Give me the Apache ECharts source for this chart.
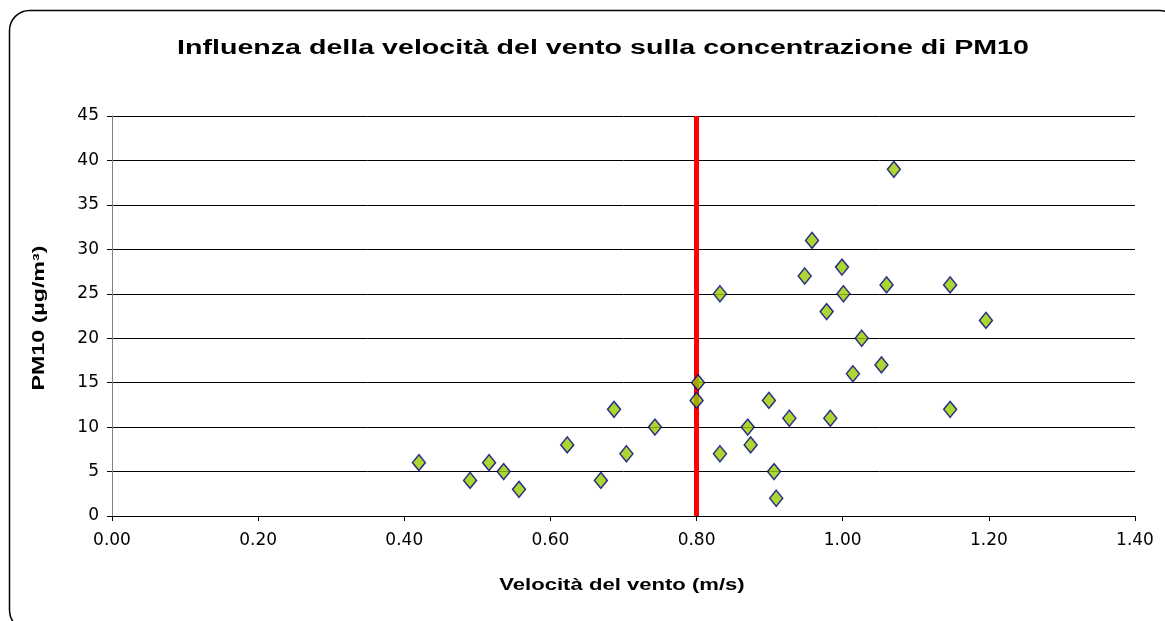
<!DOCTYPE html>
<html>
<head>
<meta charset="utf-8">
<script src="https://cdn.jsdelivr.net/npm/echarts@6/dist/echarts.min.js"></script>
<style>
  html, body { margin: 0; padding: 0; background: #fff; }
  #main { width: 1165px; height: 621px; }
</style>
</head>
<body>
<div id="main"></div>
<script>
// velocità del vento (m/s)
var windSpeed = [0.42, 0.49, 0.516, 0.536, 0.557, 0.623, 0.669, 0.687, 0.704, 0.743,
                 0.80, 0.802, 0.832, 0.832, 0.870, 0.874, 0.899, 0.906, 0.909, 0.927,
                 0.948, 0.958, 0.978, 0.983, 0.999, 1.001, 1.014, 1.026, 1.053, 1.06,
                 1.07, 1.147, 1.147, 1.196];
// PM10 (µg/m³)
var pm10 = [6, 4, 6, 5, 3, 8, 4, 12, 7, 10,
            13, 15, 25, 7, 10, 8, 13, 5, 2, 11,
            27, 31, 23, 11, 28, 25, 16, 20, 17, 26,
            39, 26, 12, 22];
var soglia = 0.8;
var xTicks = [0, 1.4, 0.2];   // min, max, interval
var yTicks = [0, 45, 5];

var titolo = 'Influenza della velocità del vento sulla concentrazione di PM10';
var nomeX = 'Velocità del vento (m/s)';
var nomeY = 'PM10 (µg/m³)';

var chartDom = document.getElementById('main');
var myChart = echarts.init(chartDom);
var option;

var punti = windSpeed.map(function (v, i) { return [v, pm10[i]]; });
var fontB = 'bold 16px "Liberation Sans", Arial, sans-serif';

option = {
    animation: false,
    // testi allargati come nell'originale (font stirato in orizzontale)
    graphic: [{
        type: 'rect',
        shape: { x: 9.5, y: 10.5, width: 1170, height: 620, r: 20 },
        style: { fill: 'none', stroke: '#000', lineWidth: 1.5 },
        silent: true
    }, {
        type: 'text',
        x: 603, y: 48,
        scaleX: 1.43,
        style: {
            text: titolo, fill: '#000',
            font: 'bold 20px "Liberation Sans", Arial, sans-serif',
            align: 'center', verticalAlign: 'middle'
        }
    }, {
        type: 'text',
        x: 622, y: 586,
        scaleX: 1.38,
        style: { text: nomeX, fill: '#000', font: fontB, align: 'center', verticalAlign: 'middle' }
    }, {
        type: 'text',
        x: 40, y: 318,
        rotation: Math.PI / 2,
        scaleX: 1.45,
        style: { text: nomeY, fill: '#000', font: fontB, align: 'center', verticalAlign: 'middle' }
    }],
    grid: {
        left: 112,
        right: 30,
        top: 116,
        bottom: 105
    },
    xAxis: {
        type: 'value',
        min: xTicks[0],
        max: xTicks[1],
        interval: xTicks[2],
        axisLine: { lineStyle: { color: '#000', width: 1 } },
        axisTick: { show: true, length: 5, lineStyle: { color: '#000' } },
        axisLabel: {
            fontSize: 17, color: '#000', margin: 16,
            fontFamily: 'DejaVu Sans',
            formatter: function (v) { return v.toFixed(2); }
        },
        splitLine: { show: false }
    },
    yAxis: {
        type: 'value',
        min: yTicks[0],
        max: yTicks[1],
        interval: yTicks[2],
        axisLine: { show: true, lineStyle: { color: '#808080', width: 1 } },
        axisTick: { show: true, length: 5, lineStyle: { color: '#000' } },
        axisLabel: { fontSize: 17, color: '#000', margin: 13, fontFamily: 'DejaVu Sans' },
        splitLine: { show: true, lineStyle: { color: '#000', width: 1 } }
    },
    series: [{
        type: 'scatter',
        data: punti,
        symbol: 'diamond',
        symbolSize: [13, 16],
        itemStyle: { color: '#99cc00', borderColor: '#000080', borderWidth: 1.5 },
        z: 3,
        markLine: {
            silent: true,
            symbol: ['none', 'none'],
            label: { show: false },
            lineStyle: { color: '#ff0000', width: 5, type: 'solid' },
            data: [{ xAxis: soglia }],
            z: 2
        }
    }]
};

option && myChart.setOption(option);
</script>
</body>
</html>
